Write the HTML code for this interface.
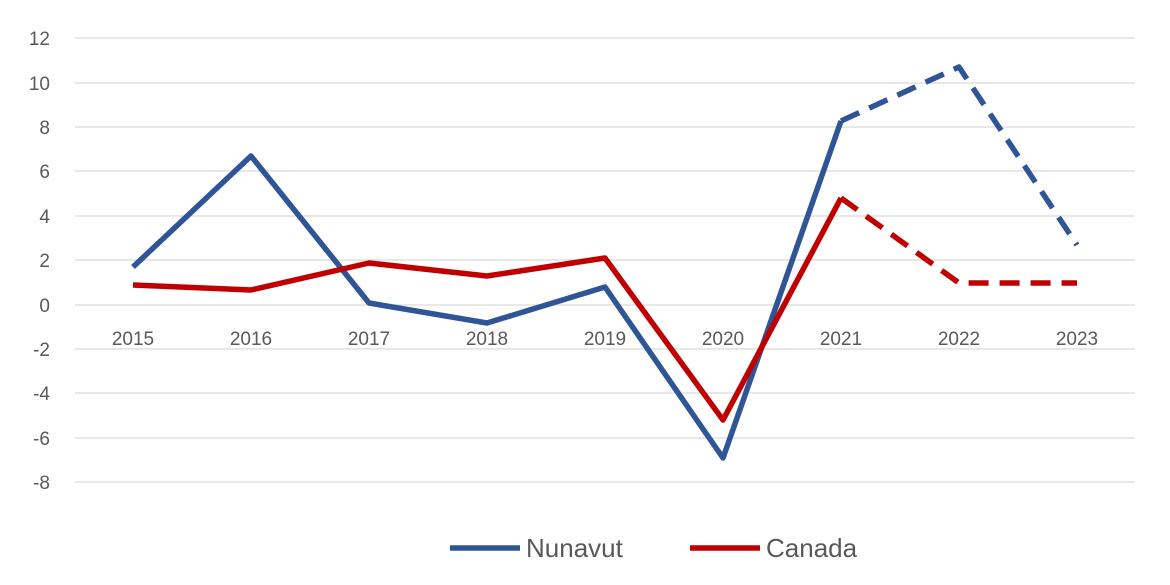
<!DOCTYPE html>
<html><head><meta charset="utf-8"><style>
html,body{margin:0;padding:0;background:#fff;}
svg text{font-family:"Liberation Sans",sans-serif;fill:#595959;}
</style></head><body>
<svg width="1170" height="580" xmlns="http://www.w3.org/2000/svg">
<g stroke="#d9d9d9" stroke-width="1.3">
<line x1="75" x2="1135" y1="38" y2="38"/><line x1="75" x2="1135" y1="83" y2="83"/>
<line x1="75" x2="1135" y1="127" y2="127"/><line x1="75" x2="1135" y1="171" y2="171"/>
<line x1="75" x2="1135" y1="216" y2="216"/><line x1="75" x2="1135" y1="260" y2="260"/>
<line x1="75" x2="1135" y1="305" y2="305"/><line x1="75" x2="1135" y1="349" y2="349"/>
<line x1="75" x2="1135" y1="393" y2="393"/><line x1="75" x2="1135" y1="438" y2="438"/>
<line x1="75" x2="1135" y1="482" y2="482"/>
</g>
<g font-size="19" text-anchor="end">
<text x="50" y="45">12</text><text x="50" y="90">10</text><text x="50" y="134">8</text>
<text x="50" y="178">6</text><text x="50" y="223">4</text><text x="50" y="267">2</text>
<text x="50" y="312">0</text><text x="50" y="356">-2</text><text x="50" y="400">-4</text>
<text x="50" y="445">-6</text><text x="50" y="489">-8</text>
</g>
<g font-size="19" text-anchor="middle">
<text x="133" y="345">2015</text><text x="251" y="345">2016</text><text x="369" y="345">2017</text>
<text x="487" y="345">2018</text><text x="605" y="345">2019</text><text x="723" y="345">2020</text>
<text x="841" y="345">2021</text><text x="959" y="345">2022</text><text x="1077" y="345">2023</text>
</g>
<g fill="none" stroke-width="5.5" stroke-linejoin="round">
<polyline stroke="#2F5597" points="133,267 251,156 369,303 487,323 605,287 723,458 841,121"/>
<polyline stroke="#2F5597" stroke-dasharray="20,11" points="841,121 959,67 1077,245"/>
<polyline stroke="#C00000" points="133,285 251,290 369,263 487,276 605,258 723,420 841,198"/>
<polyline stroke="#C00000" stroke-dasharray="20,11" points="841,198 959,283 1077,283"/>
</g>
<line x1="450" x2="520" y1="548" y2="548" stroke="#2F5597" stroke-width="5.5"/>
<text x="526" y="557" font-size="26">Nunavut</text>
<line x1="690" x2="760" y1="548" y2="548" stroke="#C00000" stroke-width="5.5"/>
<text x="766" y="557" font-size="26">Canada</text>
</svg>
</body></html>
